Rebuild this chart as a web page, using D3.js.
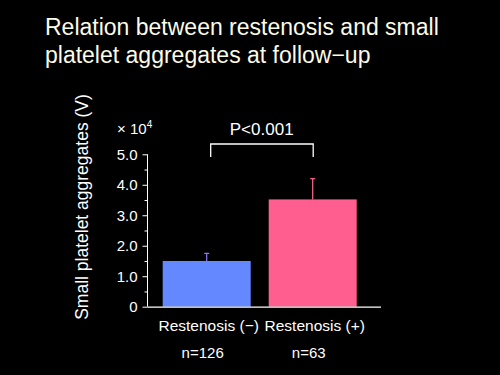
<!DOCTYPE html>
<html><head><meta charset="utf-8">
<script src="https://cdn.jsdelivr.net/npm/d3@7"></script>
<style>
html,body{margin:0;padding:0;background:#000;}
svg{display:block;}
text{font-family:"Liberation Sans", Arial, sans-serif;}
</style></head>
<body>
<script>
const categories = ["Restenosis (\u2212)", "Restenosis (+)"];
const sampleSizes = ["n=126", "n=63"];
const means = [1.5, 3.52];
const sdUpper = [1.75, 4.2];
const yTicks = [0, 1, 2, 3, 4, 5];
const yTickLabels = ["0", "1.0", "2.0", "3.0", "4.0", "5.0"];
const barColors = ["#6388ff", "#ff5e8e"];
const errColors = ["#8a7cff", "#ff6a96"];
const titleLines = ["Relation between restenosis and small", "platelet aggregates at follow\u2212up"];

const W = 500, H = 375;
const svg = d3.select("body").append("svg").attr("width", W).attr("height", H);
svg.append("rect").attr("width", W).attr("height", H).attr("fill", "#000");

// title
svg.append("g").selectAll("text").data(titleLines).join("text")
  .attr("x", 45).attr("y", (d, i) => 35 + i * 28)
  .attr("fill", "#fbfbe6").attr("font-size", 23).text(d => d);

const y = d3.scaleLinear().domain([0, 5]).range([306.7, 154.3]);
const x = d3.scaleBand().domain(categories).range([152.1, 367.3]).paddingInner(0.17).paddingOuter(0.1);

// bars
svg.append("g").selectAll("rect").data(means).join("rect")
  .attr("x", (d, i) => x(categories[i]))
  .attr("width", x.bandwidth())
  .attr("y", d => y(d))
  .attr("height", d => y(0) - y(d))
  .attr("fill", (d, i) => barColors[i]);

// error bars
const eg = svg.append("g");
means.forEach((m, i) => {
  const cx = x(categories[i]) + x.bandwidth() / 2;
  eg.append("line").attr("x1", cx).attr("x2", cx).attr("y1", y(m)).attr("y2", y(sdUpper[i]))
    .attr("stroke", errColors[i]).attr("stroke-width", 1.2);
  eg.append("line").attr("x1", cx - 2.5).attr("x2", cx + 2.5).attr("y1", y(sdUpper[i])).attr("y2", y(sdUpper[i]))
    .attr("stroke", errColors[i]).attr("stroke-width", 1.2);
});

// y axis
const yAxis = d3.axisLeft(y).tickValues(yTicks).tickFormat((d, i) => yTickLabels[i]).tickSize(5).tickPadding(5);
const ya = svg.append("g").attr("transform", "translate(147.5,0)").call(yAxis);
ya.select(".domain").attr("stroke", "#fff").attr("d", `M0,${y(5)}V${y(0)}`);
ya.selectAll(".tick line").attr("stroke", "#fff");
ya.selectAll(".tick text").attr("fill", "#fff").attr("font-size", 15).attr("font-family", '"Liberation Sans", Arial, sans-serif');
const minor = d3.axisLeft(y).tickValues([0.5, 1.5, 2.5, 3.5, 4.5]).tickSize(3).tickFormat("");
const ym = svg.append("g").attr("transform", "translate(147.5,0)").call(minor);
ym.select(".domain").remove();
ym.selectAll(".tick line").attr("stroke", "#fff");

// x axis line
svg.append("line").attr("x1", 147.5).attr("x2", 381).attr("y1", y(0) + 0.5).attr("y2", y(0) + 0.5)
  .attr("stroke", "#fff").attr("stroke-width", 1.2);

// x10^4
const mult = svg.append("text").attr("x", 117).attr("y", 134).attr("fill", "#fff").attr("font-size", 15);
mult.append("tspan").text("\u00d7 10");
mult.append("tspan").attr("font-size", 10).attr("dy", -6).text("4");

// category labels
svg.append("g").selectAll("text").data(categories).join("text")
  .attr("x", d => x(d) + x.bandwidth() / 2 + 2).attr("y", 331)
  .attr("text-anchor", "middle").attr("fill", "#fff").attr("font-size", 15.5).text(d => d);
svg.append("g").selectAll("text").data(sampleSizes).join("text")
  .attr("x", (d, i) => x(categories[i]) + x.bandwidth() / 2 - 4).attr("y", 358)
  .attr("text-anchor", "middle").attr("fill", "#fff").attr("font-size", 15).text(d => d);

// y label
svg.append("text").attr("transform", "translate(88,207) rotate(-90)")
  .attr("text-anchor", "middle").attr("fill", "#fff").attr("font-size", 17.5)
  .text("Small platelet aggregates (V)");

// significance bracket
const c1 = x(categories[0]) + x.bandwidth() / 2, c2 = x(categories[1]) + x.bandwidth() / 2;
svg.append("path").attr("d", `M${c1 + 4},157V144H${c2 + 0.5}V157`)
  .attr("fill", "none").attr("stroke", "#fff").attr("stroke-width", 1.3);
svg.append("text").attr("x", (c1 + c2) / 2 + 2).attr("y", 135).attr("text-anchor", "middle")
  .attr("fill", "#fff").attr("font-size", 17).text("P<0.001");
</script>
</body></html>
